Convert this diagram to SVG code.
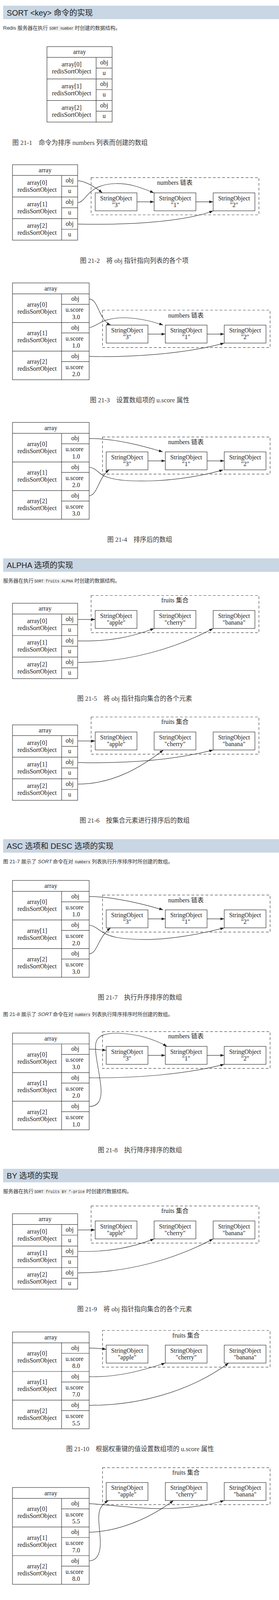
<svg xmlns="http://www.w3.org/2000/svg" width="715" height="7102" viewBox="0 0 715 7102">
<defs>
<style>
.hdr{fill:#c9d6e3}
.ht{font-family:"Liberation Sans","Noto Sans CJK SC",sans-serif;font-size:20px;fill:#222}
.p{font-family:"Liberation Sans","Noto Sans CJK SC",sans-serif;font-size:13px;fill:#333}
.pi{font-family:"Liberation Sans",sans-serif;font-size:13px;fill:#333;font-style:italic}
.cbg{fill:#eeeeee}
.code{font-family:"Liberation Mono",monospace;font-size:10px;fill:#333}
.cap{font-family:"Liberation Serif","Noto Sans CJK SC",serif;font-size:16.5px;fill:#3a3a3a;text-anchor:middle}
.b{fill:none;stroke:#333;stroke-width:1.2}
.cl{fill:none;stroke:#444;stroke-width:1.2;stroke-dasharray:7,5}
.t{font-family:"Liberation Serif","Noto Sans CJK SC",serif;font-size:16px;fill:#222;text-anchor:middle}
.e{fill:none;stroke:#333;stroke-width:1.2;marker-end:url(#ah)}
</style>
<marker id="ah" viewBox="0 0 10 7" refX="10" refY="3.5" markerWidth="10" markerHeight="7" markerUnits="userSpaceOnUse" orient="auto"><path d="M0,0L10,3.5L0,7z" fill="#222"/></marker>
</defs>
<rect width="715" height="7102" fill="#fff"/>

<!-- ===== Section 1 ===== -->
<g id="sec1">
<rect class="hdr" x="8" y="14.5" width="707" height="34.5"/>
<text class="ht" x="17.3" y="39.5">SORT &lt;key&gt; 命令的实现</text>
<text class="p" x="8" y="76">Redis 服务器在执行</text>
<rect class="cbg" x="125.5" y="66" width="64" height="13"/>
<text class="code" x="126.5" y="76" textLength="62" lengthAdjust="spacingAndGlyphs">SORT number</text>
<text class="p" x="191.5" y="76">时创建的数据结构。</text>
</g>

<!-- Fig 21-1 -->
<g id="f1-array" transform="translate(120.4,119.4)">
<rect class="b" width="167" height="193.1"/>
<path class="b" d="M0,27.5H167M0,82.7H167M0,137.9H167M126,27.5V193.1M126,54.9H167M126,110.1H167M126,165.3H167"/>
<text class="t" x="83.5" y="19">array</text>
<text class="t" x="63" y="51">array[0]</text><text class="t" x="63" y="69">redisSortObject</text>
<text class="t" x="146.5" y="45.5">obj</text><text class="t" x="146.5" y="72.5">u</text>
<text class="t" x="63" y="106.2">array[1]</text><text class="t" x="63" y="124.2">redisSortObject</text>
<text class="t" x="146.5" y="100.7">obj</text><text class="t" x="146.5" y="127.7">u</text>
<text class="t" x="63" y="161.4">array[2]</text><text class="t" x="63" y="179.4">redisSortObject</text>
<text class="t" x="146.5" y="155.9">obj</text><text class="t" x="146.5" y="182.9">u</text>
</g>
<text class="cap" x="205" y="371">图 21-1　命令为排序 numbers 列表而创建的数组</text>

<!-- Fig 21-2 -->
<g id="f2-array" transform="translate(32,421.7)">
<rect class="b" width="167" height="193.1"/>
<path class="b" d="M0,27.5H167M0,82.7H167M0,137.9H167M126,27.5V193.1M126,54.9H167M126,110.1H167M126,165.3H167"/>
<text class="t" x="83.5" y="19">array</text>
<text class="t" x="63" y="51">array[0]</text><text class="t" x="63" y="69">redisSortObject</text>
<text class="t" x="146.5" y="45.5">obj</text><text class="t" x="146.5" y="72.5">u</text>
<text class="t" x="63" y="106.2">array[1]</text><text class="t" x="63" y="124.2">redisSortObject</text>
<text class="t" x="146.5" y="100.7">obj</text><text class="t" x="146.5" y="127.7">u</text>
<text class="t" x="63" y="161.4">array[2]</text><text class="t" x="63" y="179.4">redisSortObject</text>
<text class="t" x="146.5" y="155.9">obj</text><text class="t" x="146.5" y="182.9">u</text>
</g>
<g id="f2-numbers"><rect class="cl" x="233.5" y="454.6" width="430" height="95.4"/><text class="t" x="448" y="472.6">numbers 链表</text></g>
<g id="f2-s3"><rect class="b" x="244" y="493.7" width="107" height="46"/><text class="t" x="297.5" y="512.7">StringObject</text><text class="t" x="297.5" y="529.7">"3"</text></g>
<g id="f2-s1"><rect class="b" x="395" y="493.7" width="107" height="46"/><text class="t" x="448.5" y="512.7">StringObject</text><text class="t" x="448.5" y="529.7">"1"</text></g>
<g id="f2-s2"><rect class="b" x="546.3" y="493.7" width="107" height="46"/><text class="t" x="599.8" y="512.7">StringObject</text><text class="t" x="599.8" y="529.7">"2"</text></g>
<text class="cap" x="344" y="673">图 21-2　将 obj 指针指向列表的各个项</text>

<!-- Fig 21-3 -->
<g id="f3-array" transform="translate(32,724.4)">
<rect class="b" width="196.5" height="247.8"/>
<path class="b" d="M0,27.9H196.5M0,101.2H196.5M0,174.5H196.5M125.8,27.9V247.8M125.8,54.7H196.5M125.8,128H196.5M125.8,201.3H196.5"/>
<text class="t" x="98.2" y="19.5">array</text>
<text class="t" x="63" y="60.4">array[0]</text><text class="t" x="63" y="78.4">redisSortObject</text>
<text class="t" x="161" y="45.9">obj</text><text class="t" x="159" y="73.9">u.score</text><text class="t" x="163" y="92.4">3.0</text>
<text class="t" x="63" y="133.7">array[1]</text><text class="t" x="63" y="151.7">redisSortObject</text>
<text class="t" x="161" y="119.2">obj</text><text class="t" x="159" y="147.2">u.score</text><text class="t" x="163" y="165.7">1.0</text>
<text class="t" x="63" y="207">array[2]</text><text class="t" x="63" y="225">redisSortObject</text>
<text class="t" x="161" y="192.5">obj</text><text class="t" x="159" y="220.5">u.score</text><text class="t" x="163" y="239">2.0</text>
</g>
<g id="f3-numbers"><rect class="cl" x="262.7" y="794" width="429.5" height="95.7"/><text class="t" x="476.5" y="812.5">numbers 链表</text></g>
<g id="f3-s3"><rect class="b" x="272.2" y="832.3" width="107" height="46"/><text class="t" x="325.7" y="851.3">StringObject</text><text class="t" x="325.7" y="868.3">"3"</text></g>
<g id="f3-s1"><rect class="b" x="423.6" y="832.3" width="107" height="46"/><text class="t" x="477.1" y="851.3">StringObject</text><text class="t" x="477.1" y="868.3">"1"</text></g>
<g id="f3-s2"><rect class="b" x="574.6" y="832.3" width="107" height="46"/><text class="t" x="628.1" y="851.3">StringObject</text><text class="t" x="628.1" y="868.3">"2"</text></g>
<text class="cap" x="358" y="1030">图 21-3　设置数组项的 u.score 属性</text>

<!-- Fig 21-4 -->
<g id="f4-array" transform="translate(32,1081.4)">
<rect class="b" width="196.5" height="247.8"/>
<path class="b" d="M0,27.9H196.5M0,101.2H196.5M0,174.5H196.5M125.8,27.9V247.8M125.8,54.7H196.5M125.8,128H196.5M125.8,201.3H196.5"/>
<text class="t" x="98.2" y="19.5">array</text>
<text class="t" x="63" y="60.4">array[0]</text><text class="t" x="63" y="78.4">redisSortObject</text>
<text class="t" x="161" y="45.9">obj</text><text class="t" x="159" y="73.9">u.score</text><text class="t" x="163" y="92.4">1.0</text>
<text class="t" x="63" y="133.7">array[1]</text><text class="t" x="63" y="151.7">redisSortObject</text>
<text class="t" x="161" y="119.2">obj</text><text class="t" x="159" y="147.2">u.score</text><text class="t" x="163" y="165.7">2.0</text>
<text class="t" x="63" y="207">array[2]</text><text class="t" x="63" y="225">redisSortObject</text>
<text class="t" x="161" y="192.5">obj</text><text class="t" x="159" y="220.5">u.score</text><text class="t" x="163" y="239">3.0</text>
</g>
<g id="f4-numbers"><rect class="cl" x="262.7" y="1118.6" width="429.5" height="95"/><text class="t" x="476.5" y="1137">numbers 链表</text></g>
<g id="f4-s3"><rect class="b" x="272.2" y="1156.8" width="107" height="46"/><text class="t" x="325.7" y="1175.8">StringObject</text><text class="t" x="325.7" y="1192.8">"3"</text></g>
<g id="f4-s1"><rect class="b" x="423.6" y="1156.8" width="107" height="46"/><text class="t" x="477.1" y="1175.8">StringObject</text><text class="t" x="477.1" y="1192.8">"1"</text></g>
<g id="f4-s2"><rect class="b" x="574.6" y="1156.8" width="107" height="46"/><text class="t" x="628.1" y="1175.8">StringObject</text><text class="t" x="628.1" y="1192.8">"2"</text></g>
<text class="cap" x="358" y="1387">图 21-4　排序后的数组</text>

<!-- ===== Section 2 ===== -->
<g id="sec2">
<rect class="hdr" x="8" y="1429.4" width="707" height="34.5"/>
<text class="ht" x="17.3" y="1454.4">ALPHA 选项的实现</text>
<text class="p" x="8" y="1491">服务器在执行</text>
<rect class="cbg" x="87" y="1481" width="101.5" height="13"/>
<text class="code" x="88" y="1491" textLength="99" lengthAdjust="spacingAndGlyphs">SORT fruits ALPHA</text>
<text class="p" x="190.6" y="1491">时创建的数据结构。</text>
</g>

<!-- Fig 21-5 -->
<g id="f5-array" transform="translate(32,1544.3)">
<rect class="b" width="167" height="193.1"/>
<path class="b" d="M0,27.5H167M0,82.7H167M0,137.9H167M126,27.5V193.1M126,54.9H167M126,110.1H167M126,165.3H167"/>
<text class="t" x="83.5" y="19">array</text>
<text class="t" x="63" y="51">array[0]</text><text class="t" x="63" y="69">redisSortObject</text>
<text class="t" x="146.5" y="45.5">obj</text><text class="t" x="146.5" y="72.5">u</text>
<text class="t" x="63" y="106.2">array[1]</text><text class="t" x="63" y="124.2">redisSortObject</text>
<text class="t" x="146.5" y="100.7">obj</text><text class="t" x="146.5" y="127.7">u</text>
<text class="t" x="63" y="161.4">array[2]</text><text class="t" x="63" y="179.4">redisSortObject</text>
<text class="t" x="146.5" y="155.9">obj</text><text class="t" x="146.5" y="182.9">u</text>
</g>
<g id="f5-fruits"><rect class="cl" x="233.5" y="1524.5" width="430" height="95.1"/><text class="t" x="448.2" y="1542">fruits 集合</text></g>
<g id="f5-apple"><rect class="b" x="244" y="1562.8" width="107" height="46"/><text class="t" x="297.5" y="1581.8">StringObject</text><text class="t" x="297.5" y="1598.8">"apple"</text></g>
<g id="f5-cherry"><rect class="b" x="395" y="1562.8" width="107" height="46"/><text class="t" x="448.5" y="1581.8">StringObject</text><text class="t" x="448.5" y="1598.8">"cherry"</text></g>
<g id="f5-banana"><rect class="b" x="546.3" y="1562.8" width="107" height="46"/><text class="t" x="599.8" y="1581.8">StringObject</text><text class="t" x="599.8" y="1598.8">"banana"</text></g>
<text class="cap" x="345" y="1794">图 21-5　将 obj 指针指向集合的各个元素</text>

<!-- Fig 21-6 -->
<g id="f6-fruits"><rect class="cl" x="233.5" y="1835.5" width="430" height="95.2"/><text class="t" x="448.2" y="1853">fruits 集合</text></g>
<g id="f6-array" transform="translate(32,1855.7)">
<rect class="b" width="167" height="193.1"/>
<path class="b" d="M0,27.5H167M0,82.7H167M0,137.9H167M126,27.5V193.1M126,54.9H167M126,110.1H167M126,165.3H167"/>
<text class="t" x="83.5" y="19">array</text>
<text class="t" x="63" y="51">array[0]</text><text class="t" x="63" y="69">redisSortObject</text>
<text class="t" x="146.5" y="45.5">obj</text><text class="t" x="146.5" y="72.5">u</text>
<text class="t" x="63" y="106.2">array[1]</text><text class="t" x="63" y="124.2">redisSortObject</text>
<text class="t" x="146.5" y="100.7">obj</text><text class="t" x="146.5" y="127.7">u</text>
<text class="t" x="63" y="161.4">array[2]</text><text class="t" x="63" y="179.4">redisSortObject</text>
<text class="t" x="146.5" y="155.9">obj</text><text class="t" x="146.5" y="182.9">u</text>
</g>
<g id="f6-apple"><rect class="b" x="244" y="1873.9" width="107" height="46"/><text class="t" x="297.5" y="1892.9">StringObject</text><text class="t" x="297.5" y="1909.9">"apple"</text></g>
<g id="f6-cherry"><rect class="b" x="395" y="1873.9" width="107" height="46"/><text class="t" x="448.5" y="1892.9">StringObject</text><text class="t" x="448.5" y="1909.9">"cherry"</text></g>
<g id="f6-banana"><rect class="b" x="546.3" y="1873.9" width="107" height="46"/><text class="t" x="599.8" y="1892.9">StringObject</text><text class="t" x="599.8" y="1909.9">"banana"</text></g>
<text class="cap" x="345" y="2106">图 21-6　按集合元素进行排序后的数组</text>

<!-- ===== Section 3 ===== -->
<g id="sec3">
<rect class="hdr" x="8" y="2148.3" width="707" height="34.5"/>
<text class="ht" x="17.3" y="2173.3">ASC 选项和 DESC 选项的实现</text>
<text class="p" x="8" y="2210">图 21-7 展示了</text>
<text class="pi" x="97" y="2210">SORT</text>
<text class="p" x="135.4" y="2210">命令在对</text>
<rect class="cbg" x="191" y="2200" width="41.5" height="13"/>
<text class="code" x="191.8" y="2210" textLength="39.5" lengthAdjust="spacingAndGlyphs">numbers</text>
<text class="p" x="235.3" y="2210">列表执行升序排序时所创建的数组。</text>
</g>

<!-- Fig 21-7 -->
<g id="f7-array" transform="translate(32,2253.9)">
<rect class="b" width="196.5" height="247.8"/>
<path class="b" d="M0,27.9H196.5M0,101.2H196.5M0,174.5H196.5M125.8,27.9V247.8M125.8,54.7H196.5M125.8,128H196.5M125.8,201.3H196.5"/>
<text class="t" x="98.2" y="19.5">array</text>
<text class="t" x="63" y="60.4">array[0]</text><text class="t" x="63" y="78.4">redisSortObject</text>
<text class="t" x="161" y="45.9">obj</text><text class="t" x="159" y="73.9">u.score</text><text class="t" x="163" y="92.4">1.0</text>
<text class="t" x="63" y="133.7">array[1]</text><text class="t" x="63" y="151.7">redisSortObject</text>
<text class="t" x="161" y="119.2">obj</text><text class="t" x="159" y="147.2">u.score</text><text class="t" x="163" y="165.7">2.0</text>
<text class="t" x="63" y="207">array[2]</text><text class="t" x="63" y="225">redisSortObject</text>
<text class="t" x="161" y="192.5">obj</text><text class="t" x="159" y="220.5">u.score</text><text class="t" x="163" y="239">3.0</text>
</g>
<g id="f7-numbers"><rect class="cl" x="262.7" y="2291.4" width="429.5" height="94.7"/><text class="t" x="476.5" y="2310">numbers 链表</text></g>
<g id="f7-s3"><rect class="b" x="272.2" y="2329.3" width="107" height="46"/><text class="t" x="325.7" y="2348.3">StringObject</text><text class="t" x="325.7" y="2365.3">"3"</text></g>
<g id="f7-s1"><rect class="b" x="423.6" y="2329.3" width="107" height="46"/><text class="t" x="477.1" y="2348.3">StringObject</text><text class="t" x="477.1" y="2365.3">"1"</text></g>
<g id="f7-s2"><rect class="b" x="574.6" y="2329.3" width="107" height="46"/><text class="t" x="628.1" y="2348.3">StringObject</text><text class="t" x="628.1" y="2365.3">"2"</text></g>
<text class="cap" x="358.6" y="2559">图 21-7　执行升序排序的数组</text>

<g id="sec3b">
<text class="p" x="8" y="2601">图 21-8 展示了</text>
<text class="pi" x="97" y="2601">SORT</text>
<text class="p" x="135.4" y="2601">命令在对</text>
<rect class="cbg" x="191" y="2591" width="41.5" height="13"/>
<text class="code" x="191.8" y="2601" textLength="39.5" lengthAdjust="spacingAndGlyphs">numbers</text>
<text class="p" x="235.3" y="2601">列表执行降序排序时所创建的数组。</text>
</g>

<!-- Fig 21-8 -->
<g id="f8-array" transform="translate(32,2644.6)">
<rect class="b" width="196.5" height="247.8"/>
<path class="b" d="M0,27.9H196.5M0,101.2H196.5M0,174.5H196.5M125.8,27.9V247.8M125.8,54.7H196.5M125.8,128H196.5M125.8,201.3H196.5"/>
<text class="t" x="98.2" y="19.5">array</text>
<text class="t" x="63" y="60.4">array[0]</text><text class="t" x="63" y="78.4">redisSortObject</text>
<text class="t" x="161" y="45.9">obj</text><text class="t" x="159" y="73.9">u.score</text><text class="t" x="163" y="92.4">3.0</text>
<text class="t" x="63" y="133.7">array[1]</text><text class="t" x="63" y="151.7">redisSortObject</text>
<text class="t" x="161" y="119.2">obj</text><text class="t" x="159" y="147.2">u.score</text><text class="t" x="163" y="165.7">2.0</text>
<text class="t" x="63" y="207">array[2]</text><text class="t" x="63" y="225">redisSortObject</text>
<text class="t" x="161" y="192.5">obj</text><text class="t" x="159" y="220.5">u.score</text><text class="t" x="163" y="239">1.0</text>
</g>
<g id="f8-numbers"><rect class="cl" x="262.7" y="2640.8" width="429.5" height="94.3"/><text class="t" x="476.5" y="2658">numbers 链表</text></g>
<g id="f8-s3"><rect class="b" x="272.2" y="2678.7" width="107" height="46"/><text class="t" x="325.7" y="2697.7">StringObject</text><text class="t" x="325.7" y="2714.7">"3"</text></g>
<g id="f8-s1"><rect class="b" x="423.6" y="2678.7" width="107" height="46"/><text class="t" x="477.1" y="2697.7">StringObject</text><text class="t" x="477.1" y="2714.7">"1"</text></g>
<g id="f8-s2"><rect class="b" x="574.6" y="2678.7" width="107" height="46"/><text class="t" x="628.1" y="2697.7">StringObject</text><text class="t" x="628.1" y="2714.7">"2"</text></g>
<text class="cap" x="358.6" y="2950">图 21-8　执行降序排序的数组</text>

<!-- ===== Section 4 ===== -->
<g id="sec4">
<rect class="hdr" x="8" y="2992.2" width="707" height="34.5"/>
<text class="ht" x="17.3" y="3017.2">BY 选项的实现</text>
<text class="p" x="8" y="3054">服务器在执行</text>
<rect class="cbg" x="87" y="3044" width="131.5" height="13"/>
<text class="code" x="88" y="3054" textLength="129" lengthAdjust="spacingAndGlyphs">SORT fruits BY *-price</text>
<text class="p" x="220.7" y="3054">时创建的数据结构。</text>
</g>

<!-- Fig 21-9 -->
<g id="f9-array" transform="translate(32,3107.1)">
<rect class="b" width="167" height="193.1"/>
<path class="b" d="M0,27.5H167M0,82.7H167M0,137.9H167M126,27.5V193.1M126,54.9H167M126,110.1H167M126,165.3H167"/>
<text class="t" x="83.5" y="19">array</text>
<text class="t" x="63" y="51">array[0]</text><text class="t" x="63" y="69">redisSortObject</text>
<text class="t" x="146.5" y="45.5">obj</text><text class="t" x="146.5" y="72.5">u</text>
<text class="t" x="63" y="106.2">array[1]</text><text class="t" x="63" y="124.2">redisSortObject</text>
<text class="t" x="146.5" y="100.7">obj</text><text class="t" x="146.5" y="127.7">u</text>
<text class="t" x="63" y="161.4">array[2]</text><text class="t" x="63" y="179.4">redisSortObject</text>
<text class="t" x="146.5" y="155.9">obj</text><text class="t" x="146.5" y="182.9">u</text>
</g>
<g id="f9-fruits"><rect class="cl" x="233.5" y="3087.3" width="430" height="95.1"/><text class="t" x="448.2" y="3104.8">fruits 集合</text></g>
<g id="f9-apple"><rect class="b" x="244" y="3125.6" width="107" height="46"/><text class="t" x="297.5" y="3144.6">StringObject</text><text class="t" x="297.5" y="3161.6">"apple"</text></g>
<g id="f9-cherry"><rect class="b" x="395" y="3125.6" width="107" height="46"/><text class="t" x="448.5" y="3144.6">StringObject</text><text class="t" x="448.5" y="3161.6">"cherry"</text></g>
<g id="f9-banana"><rect class="b" x="546.3" y="3125.6" width="107" height="46"/><text class="t" x="599.8" y="3144.6">StringObject</text><text class="t" x="599.8" y="3161.6">"banana"</text></g>
<text class="cap" x="345" y="3356.8">图 21-9　将 obj 指针指向集合的各个元素</text>

<!-- Fig 21-10 -->
<g id="f10-array" transform="translate(32,3409.8)">
<rect class="b" width="196.5" height="247.8"/>
<path class="b" d="M0,27.9H196.5M0,101.2H196.5M0,174.5H196.5M125.8,27.9V247.8M125.8,54.7H196.5M125.8,128H196.5M125.8,201.3H196.5"/>
<text class="t" x="98.2" y="19.5">array</text>
<text class="t" x="63" y="60.4">array[0]</text><text class="t" x="63" y="78.4">redisSortObject</text>
<text class="t" x="161" y="45.9">obj</text><text class="t" x="159" y="73.9">u.score</text><text class="t" x="163" y="92.4">8.0</text>
<text class="t" x="63" y="133.7">array[1]</text><text class="t" x="63" y="151.7">redisSortObject</text>
<text class="t" x="161" y="119.2">obj</text><text class="t" x="159" y="147.2">u.score</text><text class="t" x="163" y="165.7">7.0</text>
<text class="t" x="63" y="207">array[2]</text><text class="t" x="63" y="225">redisSortObject</text>
<text class="t" x="161" y="192.5">obj</text><text class="t" x="159" y="220.5">u.score</text><text class="t" x="163" y="239">5.5</text>
</g>
<g id="f10-fruits"><rect class="cl" x="262.7" y="3406" width="429.5" height="93.9"/><text class="t" x="476.5" y="3424">fruits 集合</text></g>
<g id="f10-apple"><rect class="b" x="272.2" y="3443.5" width="107" height="46"/><text class="t" x="325.7" y="3462.5">StringObject</text><text class="t" x="325.7" y="3479.5">"apple"</text></g>
<g id="f10-cherry"><rect class="b" x="423.6" y="3443.5" width="107" height="46"/><text class="t" x="477.1" y="3462.5">StringObject</text><text class="t" x="477.1" y="3479.5">"cherry"</text></g>
<g id="f10-banana"><rect class="b" x="574.6" y="3443.5" width="107" height="46"/><text class="t" x="628.1" y="3462.5">StringObject</text><text class="t" x="628.1" y="3479.5">"banana"</text></g>
<text class="cap" x="358.9" y="3715">图 21-10　根据权重键的值设置数组项的 u.score 属性</text>

<!-- Fig 21-11 -->
<g id="f11-fruits"><rect class="cl" x="262.7" y="3757.4" width="429.5" height="94.4"/><text class="t" x="476.5" y="3775">fruits 集合</text></g>
<g id="f11-apple"><rect class="b" x="272.2" y="3795.3" width="107" height="46"/><text class="t" x="325.7" y="3814.3">StringObject</text><text class="t" x="325.7" y="3831.3">"apple"</text></g>
<g id="f11-cherry"><rect class="b" x="423.6" y="3795.3" width="107" height="46"/><text class="t" x="477.1" y="3814.3">StringObject</text><text class="t" x="477.1" y="3831.3">"cherry"</text></g>
<g id="f11-banana"><rect class="b" x="574.6" y="3795.3" width="107" height="46"/><text class="t" x="628.1" y="3814.3">StringObject</text><text class="t" x="628.1" y="3831.3">"banana"</text></g>
<g id="f11-array" transform="translate(32,3808)">
<rect class="b" width="196.5" height="247.8" fill="#fff"/>
<path class="b" d="M0,27.9H196.5M0,101.2H196.5M0,174.5H196.5M125.8,27.9V247.8M125.8,54.7H196.5M125.8,128H196.5M125.8,201.3H196.5"/>
<text class="t" x="98.2" y="19.5">array</text>
<text class="t" x="63" y="60.4">array[0]</text><text class="t" x="63" y="78.4">redisSortObject</text>
<text class="t" x="161" y="45.9">obj</text><text class="t" x="159" y="73.9">u.score</text><text class="t" x="163" y="92.4">5.5</text>
<text class="t" x="63" y="133.7">array[1]</text><text class="t" x="63" y="151.7">redisSortObject</text>
<text class="t" x="161" y="119.2">obj</text><text class="t" x="159" y="147.2">u.score</text><text class="t" x="163" y="165.7">7.0</text>
<text class="t" x="63" y="207">array[2]</text><text class="t" x="63" y="225">redisSortObject</text>
<text class="t" x="161" y="192.5">obj</text><text class="t" x="159" y="220.5">u.score</text><text class="t" x="163" y="239">8.0</text>
</g>
<text class="cap" x="357.7" y="4112">图 21-11　根据 u.score 属性进行排序之后的数组</text>

<!-- ===== Section 5 ===== -->
<g id="sec5">
<rect class="hdr" x="8" y="4154.8" width="707" height="34.5"/>
<text class="ht" x="17.3" y="4179.8">带有 ALPHA 选项的 BY 选项的实现</text>
<text class="p" x="8" y="4216">服务器执行</text>
<rect class="cbg" x="74.7" y="4206" width="146.6" height="13"/>
<text class="code" x="75.5" y="4216" textLength="145" lengthAdjust="spacingAndGlyphs">SORT fruits BY *-id ALPHA</text>
<text class="p" x="223.9" y="4216">时创建的数据结构。</text>
</g>

<!-- Fig 21-12 -->
<g id="f12-array" transform="translate(32,4269.1)">
<rect class="b" width="167" height="193.1"/>
<path class="b" d="M0,27.5H167M0,82.7H167M0,137.9H167M126,27.5V193.1M126,54.9H167M126,110.1H167M126,165.3H167"/>
<text class="t" x="83.5" y="19">array</text>
<text class="t" x="63" y="51">array[0]</text><text class="t" x="63" y="69">redisSortObject</text>
<text class="t" x="146.5" y="45.5">obj</text><text class="t" x="146.5" y="72.5">u</text>
<text class="t" x="63" y="106.2">array[1]</text><text class="t" x="63" y="124.2">redisSortObject</text>
<text class="t" x="146.5" y="100.7">obj</text><text class="t" x="146.5" y="127.7">u</text>
<text class="t" x="63" y="161.4">array[2]</text><text class="t" x="63" y="179.4">redisSortObject</text>
<text class="t" x="146.5" y="155.9">obj</text><text class="t" x="146.5" y="182.9">u</text>
</g>
<g id="f12-fruits"><rect class="cl" x="233.5" y="4249.3" width="430" height="95.1"/><text class="t" x="448.2" y="4266.8">fruits 集合</text></g>
<g id="f12-apple"><rect class="b" x="244" y="4287.6" width="107" height="46"/><text class="t" x="297.5" y="4306.6">StringObject</text><text class="t" x="297.5" y="4323.6">"apple"</text></g>
<g id="f12-cherry"><rect class="b" x="395" y="4287.6" width="107" height="46"/><text class="t" x="448.5" y="4306.6">StringObject</text><text class="t" x="448.5" y="4323.6">"cherry"</text></g>
<g id="f12-banana"><rect class="b" x="546.3" y="4287.6" width="107" height="46"/><text class="t" x="599.8" y="4306.6">StringObject</text><text class="t" x="599.8" y="4323.6">"banana"</text></g>
<text class="cap" x="345" y="4518.8">图 21-12　将 obj 指针指向集合的各个元素</text>

<!-- Fig 21-13 -->
<g id="f13-fruits"><rect class="cl" x="274" y="4561.4" width="430.5" height="94.7"/><text class="t" x="488.4" y="4580">fruits 集合</text></g>
<g id="f13-apple"><rect class="b" x="284.5" y="4599.7" width="107" height="46"/><text class="t" x="338" y="4618.7">StringObject</text><text class="t" x="338" y="4635.7">"apple"</text></g>
<g id="f13-cherry"><rect class="b" x="435.5" y="4599.7" width="107" height="46"/><text class="t" x="489" y="4618.7">StringObject</text><text class="t" x="489" y="4635.7">"cherry"</text></g>
<g id="f13-banana"><rect class="b" x="586.4" y="4599.7" width="107" height="46"/><text class="t" x="639.9" y="4618.7">StringObject</text><text class="t" x="639.9" y="4635.7">"banana"</text></g>
<g id="f13-array" transform="translate(32,4667.5)">
<rect class="b" width="208.3" height="193.4"/>
<path class="b" d="M0,27.8H208.3M0,83H208.3M0,138.2H208.3M126.2,27.8V193.4M126.2,55.1H208.3M126.2,110.3H208.3M126.2,165.5H208.3"/>
<text class="t" x="104.2" y="19.3">array</text>
<text class="t" x="63" y="51.3">array[0]</text><text class="t" x="63" y="69.3">redisSortObject</text>
<text class="t" x="167.2" y="45.8">obj</text><text class="t" x="167.2" y="73.3">u.cmpobj</text>
<text class="t" x="63" y="106.5">array[1]</text><text class="t" x="63" y="124.5">redisSortObject</text>
<text class="t" x="167.2" y="101">obj</text><text class="t" x="167.2" y="128.5">u.cmpobj</text>
<text class="t" x="63" y="161.7">array[2]</text><text class="t" x="63" y="179.7">redisSortObject</text>
<text class="t" x="167.2" y="156.2">obj</text><text class="t" x="167.2" y="183.7">u.cmpobj</text>
</g>
<g id="f13-fruit25"><rect class="b" x="284.5" y="4668.4" width="107" height="46"/><text class="t" x="338" y="4687.4">StringObject</text><text class="t" x="338" y="4704.4">"FRUIT-25"</text></g>
<g id="f13-fruit13"><rect class="b" x="284.5" y="4783.2" width="107" height="46"/><text class="t" x="338" y="4802.2">StringObject</text><text class="t" x="338" y="4819.2">"FRUIT-13"</text></g>
<g id="f13-fruit79"><rect class="b" x="284.5" y="4898.6" width="107" height="46"/><text class="t" x="338" y="4917.6">StringObject</text><text class="t" x="338" y="4934.6">"FRUIT-79"</text></g>
<text class="cap" x="364.8" y="4981">图 21-13　将 u.cmpobj 指针指向权重键</text>

<!-- Fig 21-14 -->
<g id="f14-fruits"><rect class="cl" x="274" y="5023.2" width="430.5" height="95.5"/><text class="t" x="488.4" y="5041">fruits 集合</text></g>
<g id="f14-apple"><rect class="b" x="284.5" y="5061.9" width="107" height="46"/><text class="t" x="338" y="5080.9">StringObject</text><text class="t" x="338" y="5097.9">"apple"</text></g>
<g id="f14-cherry"><rect class="b" x="435.5" y="5061.9" width="107" height="46"/><text class="t" x="489" y="5080.9">StringObject</text><text class="t" x="489" y="5097.9">"cherry"</text></g>
<g id="f14-banana"><rect class="b" x="586.4" y="5061.9" width="107" height="46"/><text class="t" x="639.9" y="5080.9">StringObject</text><text class="t" x="639.9" y="5097.9">"banana"</text></g>
<g id="f14-array" transform="translate(32,5138.5)">
<rect class="b" width="208.3" height="193.4"/>
<path class="b" d="M0,27.8H208.3M0,83H208.3M0,138.2H208.3M126.2,27.8V193.4M126.2,55.1H208.3M126.2,110.3H208.3M126.2,165.5H208.3"/>
<text class="t" x="104.2" y="19.3">array</text>
<text class="t" x="63" y="51.3">array[0]</text><text class="t" x="63" y="69.3">redisSortObject</text>
<text class="t" x="167.2" y="45.8">obj</text><text class="t" x="167.2" y="73.3">u.cmpobj</text>
<text class="t" x="63" y="106.5">array[1]</text><text class="t" x="63" y="124.5">redisSortObject</text>
<text class="t" x="167.2" y="101">obj</text><text class="t" x="167.2" y="128.5">u.cmpobj</text>
<text class="t" x="63" y="161.7">array[2]</text><text class="t" x="63" y="179.7">redisSortObject</text>
<text class="t" x="167.2" y="156.2">obj</text><text class="t" x="167.2" y="183.7">u.cmpobj</text>
</g>
<g id="f14-fruit13"><rect class="b" x="284.5" y="5177.3" width="107" height="46"/><text class="t" x="338" y="5196.3">StringObject</text><text class="t" x="338" y="5213.3">"FRUIT-13"</text></g>
<g id="f14-fruit25"><rect class="b" x="284.5" y="5245.9" width="107" height="46"/><text class="t" x="338" y="5264.9">StringObject</text><text class="t" x="338" y="5281.9">"FRUIT-25"</text></g>
<g id="f14-fruit79"><rect class="b" x="284.5" y="5360.8" width="107" height="46"/><text class="t" x="338" y="5379.8">StringObject</text><text class="t" x="338" y="5396.8">"FRUIT-79"</text></g>
<text class="cap" x="365.5" y="5443">图 21-14　按 u.cmpobj 所指向的字符串对象进行排序之后的数组</text>

<!-- ===== Section 6 ===== -->
<g id="sec6">
<rect class="hdr" x="8" y="5485.3" width="707" height="34.5"/>
<text class="ht" x="17.3" y="5510.3">LIMIT 选项的实现</text>
<text class="p" x="8" y="5548">服务器在执行</text>
<rect class="cbg" x="88" y="5538" width="170" height="13"/>
<text class="code" x="89" y="5548" textLength="168" lengthAdjust="spacingAndGlyphs">SORT alphabet ALPHA LIMIT 0 4</text>
<text class="p" x="260.8" y="5548">时创建的数据结构。</text>
</g>

<!-- Fig 21-15 -->
<g id="f15-array" transform="translate(13.2,5600.2)">
<rect class="b" width="167.4" height="358.7"/>
<path class="b" d="M0,27.5H167.4M0,82.7H167.4M0,137.9H167.4M0,193.1H167.4M0,248.3H167.4M0,303.5H167.4M126,27.5V358.7M126,54.9H167.4M126,110.1H167.4M126,165.3H167.4M126,220.5H167.4M126,275.7H167.4M126,330.9H167.4"/>
<text class="t" x="83.7" y="19">array</text>
<text class="t" x="63" y="51">array[0]</text><text class="t" x="63" y="69">redisSortObject</text>
<text class="t" x="146.7" y="45.5">obj</text><text class="t" x="146.7" y="72.5">u</text>
<text class="t" x="63" y="106.2">array[1]</text><text class="t" x="63" y="124.2">redisSortObject</text>
<text class="t" x="146.7" y="100.7">obj</text><text class="t" x="146.7" y="127.7">u</text>
<text class="t" x="63" y="161.4">array[2]</text><text class="t" x="63" y="179.4">redisSortObject</text>
<text class="t" x="146.7" y="155.9">obj</text><text class="t" x="146.7" y="182.9">u</text>
<text class="t" x="63" y="216.6">array[3]</text><text class="t" x="63" y="234.6">redisSortObject</text>
<text class="t" x="146.7" y="211.1">obj</text><text class="t" x="146.7" y="238.1">u</text>
<text class="t" x="63" y="271.8">array[4]</text><text class="t" x="63" y="289.8">redisSortObject</text>
<text class="t" x="146.7" y="266.3">obj</text><text class="t" x="146.7" y="293.3">u</text>
<text class="t" x="63" y="327">array[5]</text><text class="t" x="63" y="345">redisSortObject</text>
<text class="t" x="146.7" y="321.5">obj</text><text class="t" x="146.7" y="348.5">u</text>
</g>
<g id="f15-alphabet"><rect class="cl" x="260" y="5580.9" width="430" height="159.9"/><text class="t" x="474.2" y="5599">alphabet 集合</text></g>
<g id="f15-d"><rect class="b" x="270.4" y="5618.8" width="107" height="46"/><text class="t" x="323.9" y="5637.8">StringObject</text><text class="t" x="323.9" y="5654.8">"d"</text></g>
<g id="f15-c"><rect class="b" x="421.3" y="5618.8" width="107" height="46"/><text class="t" x="474.8" y="5637.8">StringObject</text><text class="t" x="474.8" y="5654.8">"c"</text></g>
<g id="f15-a"><rect class="b" x="572.7" y="5618.8" width="107" height="46"/><text class="t" x="626.2" y="5637.8">StringObject</text><text class="t" x="626.2" y="5654.8">"a"</text></g>
<g id="f15-b"><rect class="b" x="270.4" y="5685.2" width="107" height="46"/><text class="t" x="323.9" y="5704.2">StringObject</text><text class="t" x="323.9" y="5721.2">"b"</text></g>
<g id="f15-f"><rect class="b" x="421.3" y="5685.2" width="107" height="46"/><text class="t" x="474.8" y="5704.2">StringObject</text><text class="t" x="474.8" y="5721.2">"f"</text></g>
<g id="f15-e"><rect class="b" x="572.7" y="5685.2" width="107" height="46"/><text class="t" x="626.2" y="5704.2">StringObject</text><text class="t" x="626.2" y="5721.2">"e"</text></g>
<text class="cap" x="358" y="5997">图 21-15　将 obj 指针指向集合的各个元素</text>

<!-- Fig 21-16 -->
<g id="f16-array" transform="translate(13.2,6044.3)">
<rect class="b" width="167.4" height="358.7"/>
<path class="b" d="M0,27.5H167.4M0,82.7H167.4M0,137.9H167.4M0,193.1H167.4M0,248.3H167.4M0,303.5H167.4M126,27.5V358.7M126,54.9H167.4M126,110.1H167.4M126,165.3H167.4M126,220.5H167.4M126,275.7H167.4M126,330.9H167.4"/>
<text class="t" x="83.7" y="19">array</text>
<text class="t" x="63" y="51">array[0]</text><text class="t" x="63" y="69">redisSortObject</text>
<text class="t" x="146.7" y="45.5">obj</text><text class="t" x="146.7" y="72.5">u</text>
<text class="t" x="63" y="106.2">array[1]</text><text class="t" x="63" y="124.2">redisSortObject</text>
<text class="t" x="146.7" y="100.7">obj</text><text class="t" x="146.7" y="127.7">u</text>
<text class="t" x="63" y="161.4">array[2]</text><text class="t" x="63" y="179.4">redisSortObject</text>
<text class="t" x="146.7" y="155.9">obj</text><text class="t" x="146.7" y="182.9">u</text>
<text class="t" x="63" y="216.6">array[3]</text><text class="t" x="63" y="234.6">redisSortObject</text>
<text class="t" x="146.7" y="211.1">obj</text><text class="t" x="146.7" y="238.1">u</text>
<text class="t" x="63" y="271.8">array[4]</text><text class="t" x="63" y="289.8">redisSortObject</text>
<text class="t" x="146.7" y="266.3">obj</text><text class="t" x="146.7" y="293.3">u</text>
<text class="t" x="63" y="327">array[5]</text><text class="t" x="63" y="345">redisSortObject</text>
<text class="t" x="146.7" y="321.5">obj</text><text class="t" x="146.7" y="348.5">u</text>
</g>
<g id="f16-alphabet"><rect class="cl" x="260" y="6037.6" width="430" height="178.9"/><text class="t" x="474.2" y="6056">alphabet 集合</text></g>
<g id="f16-d"><rect class="b" x="270.4" y="6094.4" width="107" height="46"/><text class="t" x="323.9" y="6113.4">StringObject</text><text class="t" x="323.9" y="6130.4">"d"</text></g>
<g id="f16-c"><rect class="b" x="421.3" y="6094.4" width="107" height="46"/><text class="t" x="474.8" y="6113.4">StringObject</text><text class="t" x="474.8" y="6130.4">"c"</text></g>
<g id="f16-a"><rect class="b" x="572.7" y="6094.4" width="107" height="46"/><text class="t" x="626.2" y="6113.4">StringObject</text><text class="t" x="626.2" y="6130.4">"a"</text></g>
<g id="f16-b"><rect class="b" x="270.4" y="6161.8" width="107" height="46"/><text class="t" x="323.9" y="6180.8">StringObject</text><text class="t" x="323.9" y="6197.8">"b"</text></g>
<g id="f16-f"><rect class="b" x="421.3" y="6161.8" width="107" height="46"/><text class="t" x="474.8" y="6180.8">StringObject</text><text class="t" x="474.8" y="6197.8">"f"</text></g>
<g id="f16-e"><rect class="b" x="572.7" y="6161.8" width="107" height="46"/><text class="t" x="626.2" y="6180.8">StringObject</text><text class="t" x="626.2" y="6197.8">"e"</text></g>
<text class="cap" x="358" y="6441">图 21-16　排序后的数组</text>

<!-- ===== Section 7 ===== -->
<g id="sec7">
<rect class="hdr" x="8" y="6483.2" width="707" height="34.5"/>
<text class="ht" x="17.3" y="6508.2">GET 选项的实现</text>
<text class="p" x="8" y="6545.5">服务器在执行</text>
<rect class="cbg" x="88" y="6535.5" width="176" height="13"/>
<text class="code" x="89" y="6545.5" textLength="174" lengthAdjust="spacingAndGlyphs">SORT students ALPHA GET *-name</text>
<text class="p" x="266.8" y="6545.5">时创建的数据结构。</text>
</g>

<!-- Fig 21-17 -->
<g id="f17-array" transform="translate(13.2,6597.4)">
<rect class="b" width="167.4" height="193.1"/>
<path class="b" d="M0,27.5H167.4M0,82.7H167.4M0,137.9H167.4M126,27.5V193.1M126,54.9H167.4M126,110.1H167.4M126,165.3H167.4"/>
<text class="t" x="83.7" y="19">array</text>
<text class="t" x="63" y="51">array[0]</text><text class="t" x="63" y="69">redisSortObject</text>
<text class="t" x="146.7" y="45.5">obj</text><text class="t" x="146.7" y="72.5">u</text>
<text class="t" x="63" y="106.2">array[1]</text><text class="t" x="63" y="124.2">redisSortObject</text>
<text class="t" x="146.7" y="100.7">obj</text><text class="t" x="146.7" y="127.7">u</text>
<text class="t" x="63" y="161.4">array[2]</text><text class="t" x="63" y="179.4">redisSortObject</text>
<text class="t" x="146.7" y="155.9">obj</text><text class="t" x="146.7" y="182.9">u</text>
</g>
<g id="f17-students"><rect class="cl" x="214.3" y="6578.8" width="430" height="92.8"/><text class="t" x="428.6" y="6597">students 集合</text></g>
<g id="f17-peter"><rect class="b" x="224.3" y="6616" width="107" height="46"/><text class="t" x="277.8" y="6635">StringObject</text><text class="t" x="277.8" y="6652">"peter"</text></g>
<g id="f17-jack"><rect class="b" x="375.7" y="6616" width="107" height="46"/><text class="t" x="429.2" y="6635">StringObject</text><text class="t" x="429.2" y="6652">"jack"</text></g>
<g id="f17-tom"><rect class="b" x="527.1" y="6616" width="107" height="46"/><text class="t" x="580.6" y="6635">StringObject</text><text class="t" x="580.6" y="6652">"tom"</text></g>
<text class="cap" x="334.7" y="6829">图 21-17　排序之前的数组</text>

<!-- Fig 21-18 -->
<g id="f18-array" transform="translate(13.2,6860.8)">
<rect class="b" width="167.4" height="193.1"/>
<path class="b" d="M0,27.5H167.4M0,82.7H167.4M0,137.9H167.4M126,27.5V193.1M126,54.9H167.4M126,110.1H167.4M126,165.3H167.4"/>
<text class="t" x="83.7" y="19">array</text>
<text class="t" x="63" y="51">array[0]</text><text class="t" x="63" y="69">redisSortObject</text>
<text class="t" x="146.7" y="45.5">obj</text><text class="t" x="146.7" y="72.5">u</text>
<text class="t" x="63" y="106.2">array[1]</text><text class="t" x="63" y="124.2">redisSortObject</text>
<text class="t" x="146.7" y="100.7">obj</text><text class="t" x="146.7" y="127.7">u</text>
<text class="t" x="63" y="161.4">array[2]</text><text class="t" x="63" y="179.4">redisSortObject</text>
<text class="t" x="146.7" y="155.9">obj</text><text class="t" x="146.7" y="182.9">u</text>
</g>
<g id="f18-students"><rect class="cl" x="214.3" y="6897.7" width="430" height="92"/><text class="t" x="428.6" y="6916">students 集合</text></g>
<g id="f18-peter"><rect class="b" x="224.3" y="6934.2" width="107" height="46"/><text class="t" x="277.8" y="6953.2">StringObject</text><text class="t" x="277.8" y="6970.2">"peter"</text></g>
<g id="f18-jack"><rect class="b" x="375.7" y="6934.2" width="107" height="46"/><text class="t" x="429.2" y="6953.2">StringObject</text><text class="t" x="429.2" y="6970.2">"jack"</text></g>
<g id="f18-tom"><rect class="b" x="527.1" y="6934.2" width="107" height="46"/><text class="t" x="580.6" y="6953.2">StringObject</text><text class="t" x="580.6" y="6970.2">"tom"</text></g>
<text class="cap" x="334.7" y="7092">图 21-18　排序之后的数组</text>

<!-- ===== Connectors ===== -->
<g id="connectors">
<g id="f2-edges">
<path class="e" d="M200,462.7C222,465 245,480 262.2,493.7"/>
<path class="e" d="M200,518.6C222,517 222,472 296,470C335,469 365,482 394.5,493.7"/>
<path class="e" d="M200,573.6C300,576 460,572 546.3,539.7"/>
<path class="e" d="M351,516.7H395"/>
<path class="e" d="M502,516.7H546.3"/>
</g>
<g id="f3-edges">
<path class="e" d="M228.5,765.7C252,765 252,818 283.6,832.3"/>
<path class="e" d="M228.5,839C250,836 258,813 320,813.5C356,814 388,822 418,832.3"/>
<path class="e" d="M228.5,912.3C330,915 470,907 574.6,878.3"/>
<path class="e" d="M379.2,855.3H423.6"/>
<path class="e" d="M530.6,855.3H574.6"/>
</g>
<g id="f4-edges">
<path class="e" d="M228.5,1122.7C270,1122 330,1130 417,1156.8"/>
<path class="e" d="M228.5,1196C245,1197 252,1212 268,1219C300,1232 345,1232 390,1231C450,1229 520,1218 572,1202.8"/>
<path class="e" d="M228.5,1269.3C250,1268 252,1222 280,1202.8"/>
<path class="e" d="M379.2,1179.8H423.6"/>
<path class="e" d="M530.6,1179.8H574.6"/>
</g>
<g id="f5-edges">
<path class="e" d="M200,1585.8H244"/>
<path class="e" d="M200,1640.7C280,1643 340,1630 395,1608.8"/>
<path class="e" d="M200,1695.9C330,1695 450,1660 546.3,1608.8"/>
</g>
<g id="f6-edges">
<path class="e" d="M200,1896.9H244"/>
<path class="e" d="M200,1952.1C330,1955 450,1945 546.3,1919.9"/>
<path class="e" d="M200,2007.3C290,2007 360,1965 418.6,1919.9"/>
</g>
<g id="f7-edges">
<path class="e" d="M228.5,2295.2C265,2295 330,2303 418,2329.3"/>
<path class="e" d="M228.5,2368.5C250,2370 256,2392 300,2400C380,2413 480,2400 574.6,2375.3"/>
<path class="e" d="M228.5,2441.8C250,2441 250,2400 283.6,2375.3"/>
<path class="e" d="M379.2,2352.3H423.6"/>
<path class="e" d="M530.6,2352.3H574.6"/>
</g>
<g id="f8-edges">
<path class="e" d="M228.5,2685.9C245,2686 258,2687 272.2,2689"/>
<path class="e" d="M228.5,2759.2C340,2760 470,2752 574.6,2724.7"/>
<path class="e" d="M228.5,2832.5C252,2833 260,2815 259,2790C257,2750 243,2705 245,2675C247,2650 270,2645 300,2645C350,2646 395,2660 428,2678.7"/>
<path class="e" d="M379.2,2701.7H423.6"/>
<path class="e" d="M530.6,2701.7H574.6"/>
</g>
<g id="f9-edges">
<path class="e" d="M200,3148.6H244"/>
<path class="e" d="M200,3203.5C280,3205.8 340,3192.8 395,3171.6"/>
<path class="e" d="M200,3258.7C330,3257.8 450,3222.8 546.3,3171.6"/>
</g>
<g id="f10-edges">
<path class="e" d="M228.5,3451.1C245,3451 258,3452 272.2,3454.4"/>
<path class="e" d="M228.5,3524.4C300,3526 360,3510 423.6,3489.5"/>
<path class="e" d="M228.5,3597.7C360,3598 490,3560 586,3489.5"/>
</g>
<g id="f11-edges">
<path class="e" d="M228.5,3849.3C290,3853 360,3863 420,3862C480,3861 530,3855 574.6,3841.3"/>
<path class="e" d="M228.5,3922.6C300,3921 380,3890 444.6,3841.3"/>
<path class="e" d="M228.5,3995.9C252,3995 258,3970 257,3945C256,3910 248,3880 258,3860C263,3851 270,3846 278,3841.3"/>
</g>
<g id="f12-edges">
<path class="e" d="M200,4310.6H244"/>
<path class="e" d="M200,4365.5C280,4367.8 340,4354.8 395,4333.6"/>
<path class="e" d="M200,4420.7C330,4419.8 450,4384.8 546.3,4333.6"/>
</g>
<g id="f13-edges">
<path class="e" d="M240.3,4709C258,4708 260,4680 268,4665C274,4654 282,4649 289.6,4645.7"/>
<path class="e" d="M240.3,4736.5C262,4736 285,4727 305.5,4714.4"/>
<path class="e" d="M240.3,4764.2C320,4765 420,4720 472,4645.7"/>
<path class="e" d="M240.3,4791.7C258,4791.8 270,4792.5 284.5,4793.3"/>
<path class="e" d="M240.3,4819.4C258,4821 262,4838 290,4846C320,4855 370,4852 410,4837C480,4808 560,4730 620.2,4645.7"/>
<path class="e" d="M240.3,4846.9C257,4847 262,4865 272,4878C281,4889 290,4894 298.7,4898.6"/>
</g>
<g id="f14-edges">
<path class="e" d="M240.3,5180C260,5178 275,5165 300,5155C350,5135 400,5121 435.5,5107.9"/>
<path class="e" d="M240.3,5207H284.5"/>
<path class="e" d="M240.3,5235.2C260,5234 264,5220 264,5200C264,5175 262,5150 266,5135C270,5122 278,5113 286.4,5107.9"/>
<path class="e" d="M240.3,5262.7H284.5"/>
<path class="e" d="M240.3,5290.4C258,5292 262,5305 290,5310C320,5316 370,5312 410,5299C480,5275 570,5180 620.2,5107.9"/>
<path class="e" d="M240.3,5317.9C257,5318 262,5335 272,5346C281,5355 290,5357 298.7,5360.8"/>
</g>
<g id="f15-edges">
<path class="e" d="M180.6,5641.6H270.4"/>
<path class="e" d="M180.6,5696.6C205,5698 225,5720 250,5735C285,5755 330,5760 365,5748C395,5735 405,5700 432.3,5664.8"/>
<path class="e" d="M180.6,5751.8C200,5753 205,5785 220,5805C240,5828 290,5830 330,5826C400,5822 480,5800 520,5770C545,5750 568,5700 585,5664.8"/>
<path class="e" d="M180.6,5807C215,5805 260,5785 304.6,5731.2"/>
<path class="e" d="M180.6,5862.2C260,5860 380,5810 449.2,5731.2"/>
<path class="e" d="M180.6,5917.4C330,5915 500,5850 611,5731.2"/>
</g>
<g id="f16-edges">
<path class="e" d="M180.6,6085.5C280,6083 380,6070 460,6073C510,6075 545,6085 572.7,6094.4"/>
<path class="e" d="M180.6,6140.7C215,6141 245,6148 272.2,6161.8"/>
<path class="e" d="M180.6,6195.9C210,6198 240,6215 280,6224C320,6233 365,6228 385,6210C405,6190 410,6160 432.3,6140.4"/>
<path class="e" d="M180.6,6251.1C200,6251 207,6235 207,6200C207,6160 205,6130 235,6125C248,6123 258,6123 270.4,6123"/>
<path class="e" d="M180.6,6306.3C210,6310 240,6320 290,6318C370,6314 480,6265 579,6207.8"/>
<path class="e" d="M180.6,6361.5C200,6362 208,6335 218,6312C230,6290 270,6283 320,6276C370,6266 410,6235 444.6,6207.8"/>
</g>
<g id="f17-edges">
<path class="e" d="M180.6,6639H224.3"/>
<path class="e" d="M180.6,6693.8C260,6696 320,6682 375.7,6662"/>
<path class="e" d="M180.6,6749C310,6748 430,6712 527.1,6662"/>
</g>
<g id="f18-edges">
<path class="e" d="M180.6,6902C230,6903 300,6913 375.7,6934.2"/>
<path class="e" d="M180.6,6957.2H224.3"/>
<path class="e" d="M180.6,7012.4C310,7013 440,7005 527.1,6980.2"/>
</g>
</g>
</svg>
